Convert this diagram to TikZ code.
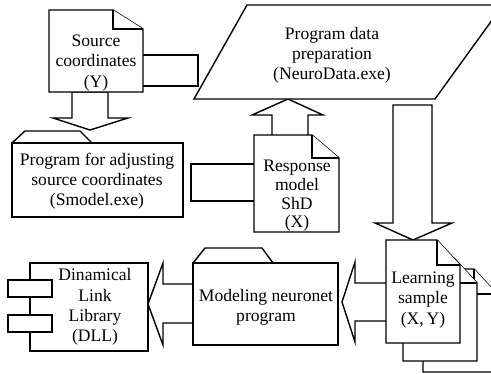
\documentclass[tikz,border=0pt]{standalone}
\usepackage{fontspec}
\setmainfont{Liberation Serif}
\begin{document}
\begin{tikzpicture}[x=0.02cm, y=-0.02cm,
                    shp/.style = {draw = black,
                                  fill = white,
                                  line width = 0.8pt,
                                  line join = miter},
                    lbl/.style = {align = center,
                                  inner sep = 0pt,
                                  font = \fontsize{10}{11.5}\selectfont}]
		\useasboundingbox (0,0) rectangle (491,373);
		% bars
		\draw[shp] (143,55) -- (198,55) -- (198,86) -- (143,86);
		\draw[shp] (254,164) -- (191,164) -- (191,201) -- (254,201);
		% block arrows
		\draw[shp] (72,92) -- (108,92) -- (108,118) -- (128,118) -- (90,130) -- (53,118) -- (72,118) -- cycle;
		\draw[shp] (272,135) -- (272,115) -- (252,115) -- (288,99) -- (323,115) -- (308,115) -- (308,135);
		\draw[shp] (393,105) -- (432,105) -- (432,223) -- (452,223) -- (413,240) -- (375,223) -- (393,223) -- cycle;
		\draw[shp] (386,283) -- (355,283) -- (355,262) -- (342,302) -- (355,342) -- (355,321) -- (386,321);
		\draw[shp] (193,284) -- (163,284) -- (163,263) -- (148,304) -- (163,345) -- (163,323) -- (193,323);
		% source coordinates
		\draw[shp] (49,10) -- (113,10) -- (143,29) -- (143,92) -- (49,92) -- cycle;
		\draw[shp] (113,10) -- (113,29) -- (143,29);
		\node[lbl] (src) at (96,63) {Source\\coordinates\\(Y)};
		% data preparation
		\draw[shp] (194,99) -- (247,5) -- (503,5) -- (435,99) -- cycle;
		\node[lbl] (prep) at (332,55) {Program data\\preparation\\(NeuroData.exe)};
		% adjusting program
		\draw[shp] (12,143) -- (25,131) -- (80,131) -- (92,143);
		\draw[shp] (12,143) rectangle (183,217);
		\node[lbl] (smod) at (97,181) {Program for adjusting\\source coordinates\\(Smodel.exe)};
		% response model
		\draw[shp] (254,135) -- (312,135) -- (339,158) -- (339,232) -- (254,232) -- cycle;
		\draw[shp] (312,135) -- (312,158) -- (339,158);
		\node[lbl, font=\fontsize{10}{10.6}\selectfont] (resp) at (297,196) {Response\\model\\ShD\\(X)};
		% learning sample
		\foreach \dx/\dy in {37/29, 17/18, 0/0} {
			\draw[shp, shift={(\dx,\dy)}] (386,240) -- (437,240) -- (460,265) -- (460,343) -- (386,343) -- cycle;
			\draw[shp, shift={(\dx,\dy)}] (437,240) -- (437,265) -- (460,265);
		}
		\node[lbl] (learn) at (423,300) {Learning\\sample\\(X,\,Y)};
		% modeling program
		\draw[shp] (193,263) -- (205,248) -- (262,248) -- (273,263);
		\draw[shp] (193,263) rectangle (338,345);
		\node[lbl] (model) at (266,307) {Modeling neuronet\\program};
		% library
		\draw[shp] (30,263) rectangle (148,351);
		\draw[shp] (8,280) rectangle (52,297);
		\draw[shp] (8,315) rectangle (52,332);
		\node[lbl] (dll) at (95,307) {Dinamical\\Link\\Library\\(DLL)};
	\end{tikzpicture}
\end{document}
